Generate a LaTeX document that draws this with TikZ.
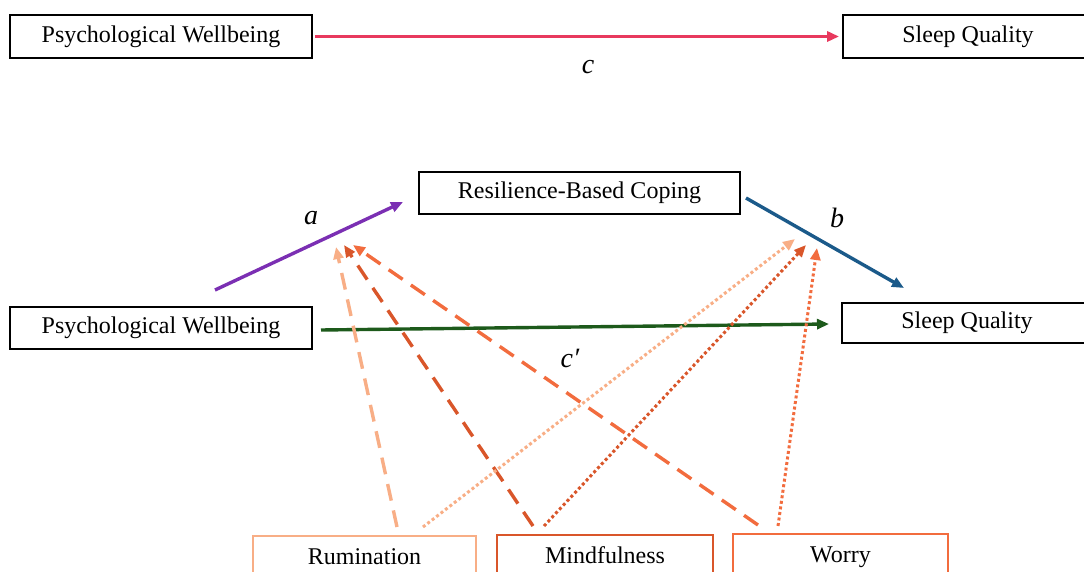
\documentclass[tikz,border=0pt]{standalone}
\usepackage{fontspec}
\setmainfont{Liberation Serif}
\usetikzlibrary{arrows.meta}
\definecolor{redarr}{HTML}{E8395E}
\definecolor{purarr}{HTML}{7B2FB3}
\definecolor{bluarr}{HTML}{1B5A8A}
\definecolor{grnarr}{HTML}{1D5A1B}
\definecolor{rumc}{HTML}{F8AE86}
\definecolor{mindc}{HTML}{D9562A}
\definecolor{worc}{HTML}{F26C3E}
\begin{document}
\begin{tikzpicture}[x=1pt,y=-1pt,
  box/.style={draw=black, line width=1.8pt, inner sep=0pt, font=\fontsize{24}{28}\selectfont},
  modbox/.style={draw, line width=1.8pt, anchor=north, inner xsep=0pt, inner ysep=0pt,
     text height=29pt, text depth=30pt, font=\fontsize{24}{28}\selectfont},
  arr/.style={line width=3.4pt, -{Triangle[length=12pt,width=10pt]}},
  lab/.style={font=\fontsize{28}{32}\selectfont\itshape, inner sep=0pt},
  dsh/.style={line width=3.4pt, dash pattern=on 17pt off 10pt, -{Triangle[length=12pt,width=10pt]}},
  dtt/.style={line width=3pt, dash pattern=on 3pt off 2.6pt, -{Triangle[length=12pt,width=10pt]}}]
\useasboundingbox (0,0) rectangle (1084,572);
\clip (0,0) rectangle (1084,572);

% top row
\node[box, minimum width=302pt, minimum height=43pt] (pw1) at (161,36.5) {Psychological Wellbeing};
\node[box, minimum width=250pt, minimum height=43pt] (sq1) at (968,36.5) {Sleep Quality};
\draw[arr, redarr, shorten <=2pt, shorten >=3pt] (pw1.east) -- (sq1.west);
\node[lab] (lc) at (588,67) {c};

% mediation model
\node[box, minimum width=321pt, minimum height=42pt] (rbc) at (579.5,193) {Resilience-Based Coping};
\node[box, minimum width=302pt, minimum height=42pt] (pw2) at (161,328) {Psychological Wellbeing};
\node[box, minimum width=250pt, minimum height=40pt] (sq2) at (967,323) {Sleep Quality};

\coordinate (a1) at (215,290);
\coordinate (a2) at (403,202);
\coordinate (b1) at (746,198);
\coordinate (b2) at (904,288);
\coordinate (g1) at (321,330);
\coordinate (g2) at (829,324);
\draw[arr, purarr] (a1) -- (a2);
\draw[arr, bluarr] (b1) -- (b2);
\draw[arr, grnarr] (g1) -- (g2);
\node[lab] (la) at (311,218) {a};
\node[lab] (lb) at (837,218) {b};
\node[lab] (lcp) at (570,358) {c′};

% moderators
\node[modbox, draw=rumc, minimum width=223pt] (rum) at (364.5,535) {Rumination};
\node[modbox, draw=mindc, minimum width=216pt] (mind) at (605,534) {Mindfulness};
\node[modbox, draw=worc, minimum width=215pt] (wor) at (840.5,533) {Worry};

\coordinate (rs1) at (397,527);
\coordinate (rs2) at (423,527);
\coordinate (ms1) at (533,526);
\coordinate (ms2) at (544,526);
\coordinate (ws1) at (758,525);
\coordinate (ws2) at (778,526);
\coordinate (ra) at (336,247);
\coordinate (ma) at (344,245);
\coordinate (wa) at (353,245);
\coordinate (rb) at (795,239);
\coordinate (mb) at (806,245);
\coordinate (wb) at (817,248);

\draw[dsh, rumc] (rs1) -- (ra);
\draw[dsh, mindc] (ms1) -- (ma);
\draw[dsh, worc] (ws1) -- (wa);
\draw[dtt, rumc] (rs2) -- (rb);
\draw[dtt, mindc] (ms2) -- (mb);
\draw[dtt, worc] (ws2) -- (wb);
\end{tikzpicture}
\end{document}
